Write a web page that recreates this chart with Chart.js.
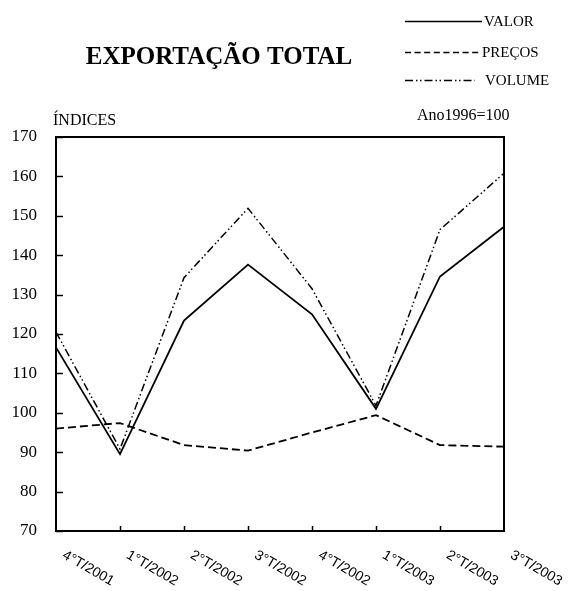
<!DOCTYPE html>
<html>
<head>
<meta charset="utf-8">
<script src="https://cdn.jsdelivr.net/npm/chart.js@4"></script>
<style>
  html, body { margin: 0; padding: 0; background: #fff; }
  #wrap { width: 568px; height: 591px; position: relative; }
</style>
</head>
<body>
<div id="wrap"><canvas id="exportChart"></canvas></div>
<script>
const quarters = ['4°T/2001', '1°T/2002', '2°T/2002', '3°T/2002', '4°T/2002', '1°T/2003', '2°T/2003', '3°T/2003'];
const valor = [116.6, 89.5, 123.4, 137.6, 125.0, 101.0, 134.6, 147.2];
const precos = [96.0, 97.4, 91.8, 90.4, 95.0, 99.4, 91.8, 91.4];
const volume = [120.5, 90.8, 134.3, 151.9, 131.5, 101.8, 146.5, 160.8];
const yTicks = [70, 80, 90, 100, 110, 120, 130, 140, 150, 160, 170];

const SERIF = '"Liberation Serif", "Times New Roman", serif';
const SANS = '"Liberation Sans", Arial, sans-serif';

const dashValor = [];
const dashPrecos = [8, 4];
const dashVolume = [8, 3, 1.5, 2.5, 1.5, 3];

// frame, inner ticks, rotated quarter labels, title, legend
const decorPlugin = {
    id: 'decor',
    afterDraw(chart) {
        const ctx = chart.ctx;
        const area = chart.chartArea;
        const xs = chart.scales.x;
        const ys = chart.scales.y;
        ctx.save();
        ctx.strokeStyle = '#000';
        ctx.fillStyle = '#000';

        // plot frame
        ctx.lineWidth = 2;
        ctx.strokeRect(area.left, area.top, area.right - area.left, area.bottom - area.top);

        // inner ticks
        ctx.lineWidth = 1.5;
        ctx.beginPath();
        yTicks.forEach(v => {
            const y = Math.round(ys.getPixelForValue(v)) + 0.5;
            ctx.moveTo(area.left, y);
            ctx.lineTo(area.left + 7, y);
        });
        quarters.forEach((q, i) => {
            if (i === 0 || i === quarters.length - 1) return;
            const x = Math.round(xs.getPixelForValue(i)) + 0.5;
            ctx.moveTo(x, area.bottom);
            ctx.lineTo(x, area.bottom - 5);
        });
        ctx.stroke();

        // quarter labels, rotated downwards
        ctx.font = '14px ' + SANS;
        ctx.textAlign = 'left';
        ctx.textBaseline = 'top';
        quarters.forEach((q, i) => {
            const x = xs.getPixelForValue(i);
            ctx.save();
            ctx.translate(x + 11, area.bottom + 17);
            ctx.rotate(30 * Math.PI / 180);
            ctx.fillText(q, 0, 0);
            ctx.restore();
        });

        // title and side notes
        ctx.font = 'bold 25px ' + SERIF;
        ctx.textAlign = 'center';
        ctx.textBaseline = 'alphabetic';
        ctx.fillText('EXPORTAÇÃO TOTAL', 219, 64);

        ctx.font = '16px ' + SERIF;
        ctx.textAlign = 'left';
        ctx.fillText('ÍNDICES', 53, 125);
        ctx.fillText('Ano1996=100', 417, 120);

        // legend
        const legend = [
            { label: 'VALOR', dash: dashValor, y: 21, x1: 482, tx: 484 },
            { label: 'PREÇOS', dash: [6, 3.6], y: 52, x1: 481, tx: 482 },
            { label: 'VOLUME', dash: dashVolume, y: 80, x1: 475, tx: 485 }
        ];
        ctx.font = '15px ' + SERIF;
        ctx.textBaseline = 'middle';
        legend.forEach(item => {
            ctx.lineWidth = 1.6;
            ctx.setLineDash(item.dash);
            ctx.beginPath();
            ctx.moveTo(405, item.y + 0.5);
            ctx.lineTo(item.x1, item.y + 0.5);
            ctx.stroke();
            ctx.setLineDash([]);
            ctx.fillText(item.label, item.tx, item.y + 1);
        });
        ctx.restore();
    }
};

const ctx = document.getElementById('exportChart').getContext('2d');
new Chart(ctx, {
    type: 'line',
    data: {
        labels: quarters,
        datasets: [
            { label: 'VALOR', data: valor, borderColor: '#000', borderWidth: 1.8, borderDash: dashValor, pointRadius: 0, tension: 0 },
            { label: 'PREÇOS', data: precos, borderColor: '#000', borderWidth: 1.8, borderDash: dashPrecos, pointRadius: 0, tension: 0 },
            { label: 'VOLUME', data: volume, borderColor: '#000', borderWidth: 1.5, borderDash: dashVolume, pointRadius: 0, tension: 0 }
        ]
    },
    options: {
        responsive: true,
        maintainAspectRatio: false,
        animation: false,
        layout: { padding: { top: 137, right: 64, left: 0, bottom: 0 } },
        plugins: {
            legend: { display: false },
            title: { display: false },
            tooltip: { enabled: false }
        },
        scales: {
            x: {
                offset: false,
                grid: { display: false, drawTicks: false },
                border: { display: false },
                ticks: { display: false },
                afterFit: (scale) => { scale.height = 60; }
            },
            y: {
                min: 70,
                max: 170,
                grid: { display: false, drawTicks: false },
                border: { display: false },
                ticks: {
                    stepSize: 10,
                    color: '#000',
                    padding: 19,
                    font: { family: SERIF, size: 17 }
                },
                afterFit: (scale) => { scale.width = 56; }
            }
        }
    },
    plugins: [decorPlugin]
});
</script>
</body>
</html>
